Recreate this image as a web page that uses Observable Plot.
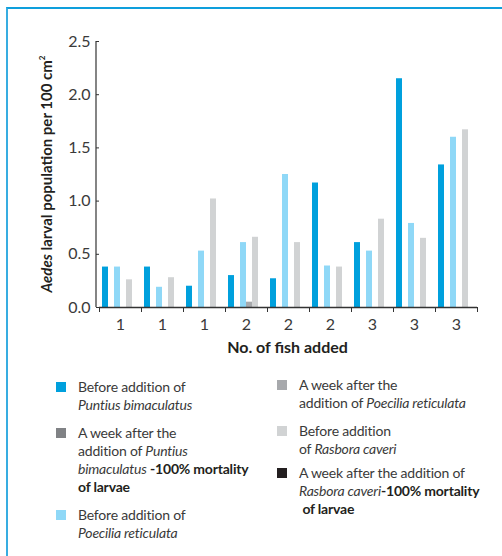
<!DOCTYPE html>
<html><head><meta charset="utf-8">
<script src="https://cdn.jsdelivr.net/npm/d3@7"></script>
<script src="https://cdn.jsdelivr.net/npm/@observablehq/plot@0.6"></script>
<style>
body{margin:0;background:#fff;font-family:Lato, sans-serif;}
#wrap{position:relative;width:502px;height:556px;overflow:hidden;}
#border{position:absolute;left:6px;top:7px;width:700px;height:800px;border-top:2px solid #0e9fdc;border-left:2px solid #38ade1;}
#chart{position:absolute;left:0;top:0;}
.item{position:absolute;font-size:14px;line-height:18px;color:#3a3a3a;letter-spacing:-0.2px;}
.item .sw{position:absolute;width:10px;height:10px;left:-22px;top:4px;}
.item b{color:#231f20;}
</style></head>
<body><div id="wrap"><div id="border"></div><div id="chart"></div><div id="legend"></div></div>
<script>
// Categories (x axis tick labels: number of fish added)
const groupLabels = ["1","1","1","2","2","2","3","3","3"];
// Series
const seriesKeys = ["beforePuntius","afterPuntius","beforePoecilia","afterPoecilia","beforeRasbora","afterRasbora"];
const seriesColors = ["#00a0dd","#808285","#8fd8f7","#a7a9ac","#d1d3d4","#231f20"];
const beforePuntius  = [0.38, 0.38, 0.20, 0.30, 0.27, 1.17, 0.61, 2.15, 1.34];
const afterPuntius   = [0, 0, 0, 0, 0, 0, 0, 0, 0];
const beforePoecilia = [0.38, 0.19, 0.53, 0.61, 1.25, 0.39, 0.53, 0.79, 1.60];
const afterPoecilia  = [0, 0, 0, 0.05, 0, 0, 0, 0, 0];
const beforeRasbora  = [0.26, 0.28, 1.02, 0.66, 0.61, 0.38, 0.83, 0.65, 1.67];
const afterRasbora   = [0, 0, 0, 0, 0, 0, 0, 0, 0];
const yTicks = [0, 0.5, 1.0, 1.5, 2.0, 2.5];
const xTitle = "No. of fish added";
// Legend labels (HTML for italics/bold)
const legendLabels = [
  "Before addition of<br><i>Puntius bimaculatus</i>",
  "A week after the<br>addition of <i>Puntius</i><br><i>bimaculatus</i> <b>-100% mortality</b><br><b>of larvae</b>",
  "Before addition of<br><i>Poecilia reticulata</i>",
  "A week after the<br>addition of <i>Poecilia reticulata</i>",
  "Before addition<br>of <i>Rasbora caveri</i>",
  "A week after the addition of<br><i>Rasbora caveri</i><b>-100% mortality</b><br>&nbsp;<b>of larvae</b>"
];
const legendOrder = ["beforePuntius","afterPuntius","beforePoecilia","afterPoecilia","beforeRasbora","afterRasbora"];

const seriesValues = [beforePuntius, afterPuntius, beforePoecilia, afterPoecilia, beforeRasbora, afterRasbora];
const data = [];
seriesKeys.forEach((s, si) => seriesValues[si].forEach((v, gi) => data.push({group: gi, series: s, value: v})));

const W = 502, H = 362, mL = 96, mR = 23, mT = 41, mB = 55;
const innerH = H - mT - mB;

const chart = Plot.plot({
  width: W, height: H,
  marginLeft: mL, marginRight: mR, marginTop: mT, marginBottom: mB,
  style: {fontFamily: "Lato, sans-serif", fontSize: "15px", color: "#444", background: "transparent", overflow: "visible"},
  fx: {domain: d3.range(groupLabels.length), padding: 0, label: null, axis: null},
  x: {domain: seriesKeys, paddingInner: 0, paddingOuter: 0.5, axis: null},
  y: {domain: [0, 2.5], axis: null},
  color: {domain: seriesKeys, range: seriesColors},
  marks: [
    Plot.barY(data, {fx: "group", x: "series", y: "value", fill: "series"}),
    Plot.axisY({ticks: yTicks, tickFormat: d3.format(".1f"), tickSize: 3, tickPadding: 6, label: null, stroke: "#333", fontSize: 16, fill: "#3a3a3a"}),
    Plot.axisFx({anchor: "bottom", tickFormat: i => groupLabels[i], tickSize: 0, tickPadding: 11, label: null, fontSize: 16, fill: "#3a3a3a"}),
    Plot.ruleY([0], {stroke: "#333", strokeWidth: 1.3}),
    Plot.frame({anchor: "left", insetTop: innerH, insetBottom: -4, stroke: "#333"}),
    Plot.frame({anchor: "right", insetTop: innerH, insetBottom: -4, stroke: "#333"})
  ]
});
document.getElementById("chart").appendChild(chart);

const svg = d3.select(chart);
// y axis line
svg.append("line")
  .attr("x1", mL).attr("x2", mL).attr("y1", mT).attr("y2", H - mB)
  .attr("stroke", "#333").attr("stroke-width", 1.2);
// x axis title
svg.append("text")
  .attr("x", mL + (W - mL - mR) / 2).attr("y", 353)
  .attr("text-anchor", "middle")
  .attr("font-family", "Lato, sans-serif").attr("font-size", 16).attr("font-weight", "bold")
  .attr("fill", "#231f20").text(xTitle);
// y axis title
const yt = svg.append("text")
  .attr("transform", `translate(52,${mT + innerH / 2}) rotate(-90)`)
  .attr("text-anchor", "middle")
  .attr("font-family", "Lato, sans-serif").attr("font-size", 15).attr("font-weight", "bold")
  .attr("fill", "#231f20");
yt.append("tspan").attr("font-style", "italic").text("Aedes");
yt.append("tspan").text(" larval population per 100 cm");
yt.append("tspan").attr("font-size", 8).attr("dy", -7).text("2");

// legend
const legendPos = [
  {left: 78, top: 378}, {left: 78, top: 424}, {left: 78, top: 506},
  {left: 299, top: 376}, {left: 299, top: 422}, {left: 299, top: 464}
];
const legend = document.getElementById("legend");
legendOrder.forEach((k, i) => {
  const d = document.createElement("div");
  d.className = "item";
  d.style.left = legendPos[i].left + "px";
  d.style.top = legendPos[i].top + "px";
  d.innerHTML = `<span class="sw" style="background:${seriesColors[seriesKeys.indexOf(k)]}"></span>` + legendLabels[i];
  legend.appendChild(d);
});
</script>
</body></html>
